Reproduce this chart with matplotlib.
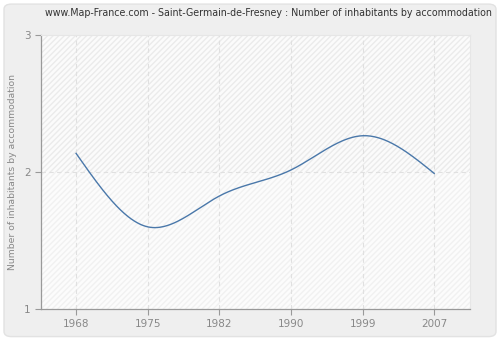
import numpy as np
import matplotlib
matplotlib.use('Agg')
import matplotlib.pyplot as plt
from matplotlib.patches import FancyBboxPatch

years = ['1968', '1975', '1982', '1990', '1999', '2007']
values = [2.136, 1.60, 1.825, 2.015, 2.265, 1.99]
yticks = [1, 2, 3]

title = 'www.Map-France.com - Saint-Germain-de-Fresney : Number of inhabitants by accommodation'
ylabel = 'Number of inhabitants by accommodation'


def natural_spline(x, y, n=300):
    # plain natural cubic spline, only used to draw the smooth line
    x = np.asarray(x, float)
    y = np.asarray(y, float)
    k = len(x)
    h = np.diff(x)
    A = np.zeros((k, k))
    b = np.zeros(k)
    A[0, 0] = 1
    A[-1, -1] = 1
    for i in range(1, k - 1):
        A[i, i - 1] = h[i - 1]
        A[i, i] = 2 * (h[i - 1] + h[i])
        A[i, i + 1] = h[i]
        b[i] = 6 * ((y[i + 1] - y[i]) / h[i] - (y[i] - y[i - 1]) / h[i - 1])
    M = np.linalg.solve(A, b)
    xs = np.linspace(x[0], x[-1], n)
    idx = np.clip(np.searchsorted(x, xs) - 1, 0, k - 2)
    x0, x1 = x[idx], x[idx + 1]
    hh = x1 - x0
    t0 = x1 - xs
    t1 = xs - x0
    ys = (M[idx] * t0**3 + M[idx + 1] * t1**3) / (6 * hh) \
        + (y[idx] / hh - M[idx] * hh / 6) * t0 \
        + (y[idx + 1] / hh - M[idx + 1] * hh / 6) * t1
    return xs, ys


fig = plt.figure(figsize=(5, 3.4), dpi=100)
fig.patch.set_facecolor('white')
bg = FancyBboxPatch((0.008, 0.01), 0.984, 0.978, boxstyle='round,pad=0,rounding_size=0.015',
                    transform=fig.transFigure, facecolor='#efefef', edgecolor='#e2e2e2',
                    linewidth=1, zorder=-10)
fig.patches.append(bg)

ax = fig.add_axes([0.082, 0.091, 0.858, 0.806])
ax.set_facecolor('#fcfcfc')

pos = np.arange(len(years))
ax.set_xlim(-0.49, 5.5)
ax.set_ylim(1, 3)

# hatched background, a bit stronger above 2
ax.axhspan(2, 3, facecolor='#fbfbfb', edgecolor='#ebebeb', hatch='//////', linewidth=0, zorder=0)
ax.axhspan(1, 2, facecolor='#fcfcfc', edgecolor='#f1f1f1', hatch='//////', linewidth=0, zorder=0)

for p in pos:
    ax.axvline(p, color='#e0e0e0', linestyle=(0, (4, 3)), linewidth=0.8, zorder=1)
ax.axhline(2, color='#e0e0e0', linestyle=(0, (4, 3)), linewidth=0.8, zorder=1)

xs, ys = natural_spline(pos, values)
ax.plot(xs, ys, color='#4a78aa', linewidth=1.0, zorder=3)

ax.set_xticks(pos)
ax.set_xticklabels(years)
ax.set_yticks(yticks)
ax.tick_params(axis='both', colors='#999999', labelcolor='#888888', labelsize=7.5,
               length=4, width=0.8, direction='out')
for s in ['left', 'bottom']:
    ax.spines[s].set_color('#999999')
    ax.spines[s].set_linewidth(0.9)
for s in ['top', 'right']:
    ax.spines[s].set_color('#e6e6e6')
    ax.spines[s].set_linewidth(0.8)

ax.set_ylabel(ylabel, color='#888888', fontsize=6.7, labelpad=5)
fig.text(0.536, 0.963, title, ha='center', va='center', fontsize=6.85, color='#333333')

plt.savefig('out.png', dpi=100)
